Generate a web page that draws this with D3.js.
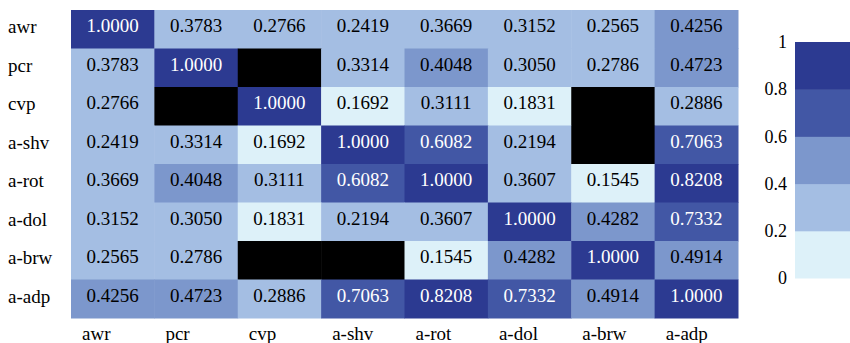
<!DOCTYPE html>
<html>
<head>
<meta charset="utf-8">
<script src="https://cdn.jsdelivr.net/npm/d3@7"></script>
<style>
  body { margin: 0; background: #fff; }
</style>
</head>
<body>
<svg id="chart" width="850" height="343"></svg>
<script>
// variable names (rows and columns)
var names = ["awr", "pcr", "cvp", "a-shv", "a-rot", "a-dol", "a-brw", "a-adp"];

// one array per row, null = missing (black cell)
var awr  = [1.0000, 0.3783, 0.2766, 0.2419, 0.3669, 0.3152, 0.2565, 0.4256];
var pcr  = [0.3783, 1.0000, null,   0.3314, 0.4048, 0.3050, 0.2786, 0.4723];
var cvp  = [0.2766, null,   1.0000, 0.1692, 0.3111, 0.1831, null,   0.2886];
var aShv = [0.2419, 0.3314, 0.1692, 1.0000, 0.6082, 0.2194, null,   0.7063];
var aRot = [0.3669, 0.4048, 0.3111, 0.6082, 1.0000, 0.3607, 0.1545, 0.8208];
var aDol = [0.3152, 0.3050, 0.1831, 0.2194, 0.3607, 1.0000, 0.4282, 0.7332];
var aBrw = [0.2565, 0.2786, null,   null,   0.1545, 0.4282, 1.0000, 0.4914];
var aAdp = [0.4256, 0.4723, 0.2886, 0.7063, 0.8208, 0.7332, 0.4914, 1.0000];

var rows = [awr, pcr, cvp, aShv, aRot, aDol, aBrw, aAdp];
var legendTicks = [0, 0.2, 0.4, 0.6, 0.8, 1];
var palette = ["#ddf1f9", "#a4bee3", "#7c97cc", "#4257a5", "#2c3a91"];

var serif = "'Liberation Serif', 'Times New Roman', 'DejaVu Serif', serif";

var svg = d3.select("#chart")
    .attr("font-family", serif);

var margin = { top: 10, left: 71, right: 112, bottom: 25 };
var gridW = 667, gridH = 308;

var x = d3.scaleBand().domain(names).range([margin.left, margin.left + gridW]);
var y = d3.scaleBand().domain(names).range([margin.top, margin.top + gridH]);

var color = d3.scaleQuantize().domain([0, 1]).range(palette);

// flatten matrix into cells
var cells = [];
rows.forEach(function (r, i) {
    r.forEach(function (v, j) {
        cells.push({ row: names[i], col: names[j], value: v });
    });
});

svg.selectAll(".cell")
    .data(cells)
    .enter().append("rect")
    .attr("class", "cell")
    .attr("x", d => x(d.col))
    .attr("y", d => y(d.row))
    .attr("width", x.bandwidth() + 0.5)
    .attr("height", y.bandwidth() + 0.5)
    .attr("fill", d => d.value == null ? "#000" : color(Math.min(d.value, 0.9999)));

svg.selectAll(".val")
    .data(cells.filter(d => d.value != null))
    .enter().append("text")
    .attr("class", "val")
    .attr("x", d => x(d.col) + x.bandwidth() / 2)
    .attr("y", d => y(d.row) + 22)
    .attr("text-anchor", "middle")
    .attr("font-family", serif)
    .attr("font-size", 19)
    .attr("fill", d => d.value >= 0.6 ? "#fff" : "#000")
    .text(d => d.value.toFixed(4));

// row labels
svg.selectAll(".rowLabel")
    .data(names)
    .enter().append("text")
    .attr("class", "rowLabel")
    .attr("x", 8)
    .attr("y", d => y(d) + 23)
    .attr("font-family", serif)
    .attr("font-size", 19)
    .text(d => d);

// column labels
svg.selectAll(".colLabel")
    .data(names)
    .enter().append("text")
    .attr("class", "colLabel")
    .attr("x", d => x(d) + 11)
    .attr("y", margin.top + gridH + 22)
    .attr("font-family", serif)
    .attr("font-size", 19)
    .text(d => d);

// legend
var ly = d3.scaleLinear().domain([0, 1]).range([278, 42]);
var bands = d3.pairs(legendTicks);

svg.selectAll(".band")
    .data(bands)
    .enter().append("rect")
    .attr("class", "band")
    .attr("x", 795)
    .attr("y", d => ly(d[1]))
    .attr("width", 60)
    .attr("height", d => ly(d[0]) - ly(d[1]) + 0.5)
    .attr("fill", d => color((d[0] + d[1]) / 2));

var legendAxis = svg.append("g")
    .attr("transform", "translate(787,0)")
    .call(d3.axisLeft(ly).tickValues(legendTicks).tickSize(0).tickFormat(d3.format("")))
    .call(g => g.select(".domain").remove())
    .attr("font-family", serif)
    .attr("font-size", 18);

legendAxis.selectAll("text")
    .attr("fill", "#000")
    .attr("x", 0);
</script>
</body>
</html>
